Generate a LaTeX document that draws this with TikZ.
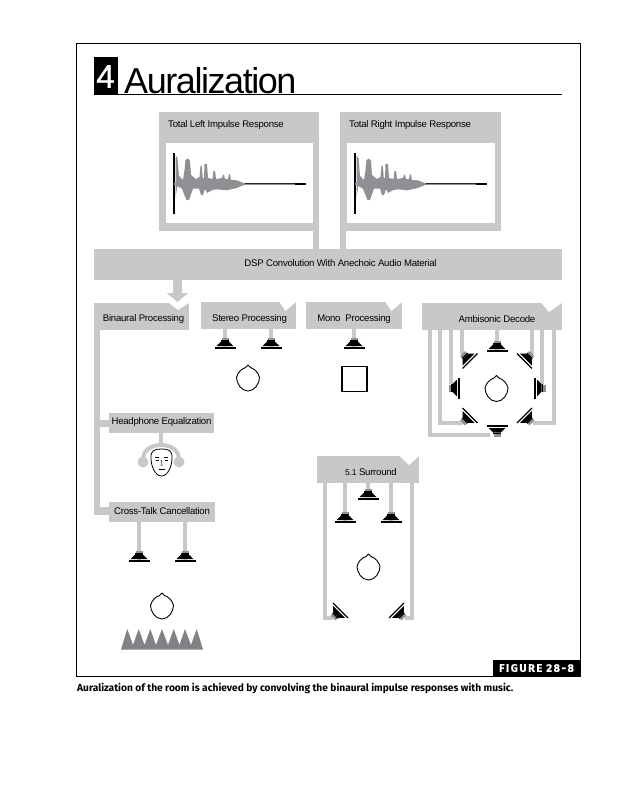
\documentclass[tikz,border=0pt]{standalone}
\usepackage{fontspec}
\usetikzlibrary{arrows.meta}
\setmainfont[LetterSpace=-2.5]{Liberation Sans}
\newfontfamily\titlefont[LetterSpace=-4]{Liberation Sans}
\newfontfamily\numfont[FakeBold=0.7]{Liberation Sans}
\newfontfamily\capfont{Fira Sans}
\newfontfamily\figfont[LetterSpace=14,BoldFeatures={FakeBold=0.8}]{Fira Sans}
\definecolor{panel}{HTML}{C6C8C9}
\definecolor{wave}{HTML}{8E9093}
\definecolor{spike}{HTML}{808286}
\tikzset{
  x=1pt,y=-1pt,
  panelbox/.style={fill=panel,draw=none,inner sep=0pt,outer sep=0pt,rectangle},
  whitebox/.style={fill=white,draw=none,inner sep=0pt,outer sep=0pt,rectangle},
  lab/.style={font=\fontsize{9.6}{12}\selectfont,text=black,inner sep=0pt,yshift=-1pt},
  stem/.style={draw=panel,line width=3.2pt},
  rail/.style={draw=panel,line width=6pt},
  notch/.style={fill=white,draw=none},
  spk/.pic={
    \fill[black] (-10.5,-0.6) rectangle (10.5,0.6);
    \fill[black] (-8.5,-2) -- (8.5,-2) -- (3.8,-6.5) -- (-3.8,-6.5) -- cycle;
    \fill[black] (-3.8,-6.5) rectangle (3.8,-8);
    \fill[wave] (-3.5,-8) rectangle (3.5,-10.5);
  },
  hd/.pic={
    \draw[black,line width=0.9pt,fill=white,line join=round] (0,-13) -- (-2.5,-10.5)
      .. controls (-7,-9) and (-10.5,-5) .. (-11.5,-0.5)
      .. controls (-11.5,5) and (-7,13) .. (0,13)
      .. controls (7,13) and (11.5,5) .. (11.5,-0.5)
      .. controls (10.5,-5) and (7,-9) .. (2.5,-10.5) -- cycle;
  },
  wv/.pic={
    \fill[wave] (1.5,-28.7) -- (3.5,-26) -- (5,-8) -- (9,-4) -- (10.5,-14) -- (11.5,-24)
      -- (14,-25.5) -- (16,-23) -- (17,-9) -- (22,-5) -- (25.5,-7) -- (26.5,-18) -- (27.8,-18)
      -- (28.8,-6) -- (30,-6) -- (30.5,-20) -- (33,-20) -- (34,-6) -- (38.5,-5) -- (39.5,-13)
      -- (41,-13) -- (42,-5) -- (48,-6) -- (49,-9.5) -- (50,-9) -- (51,-5) -- (54,-5)
      -- (55,-10) -- (56,-9.5) -- (57,-4) -- (62.7,-3.7)
      -- (71,-0.5) -- (71,0.7) -- (62.7,4) -- (52.7,6.3) -- (42.7,5.3) -- (37.7,6.3)
      -- (33,9) -- (31,5) -- (29,11) -- (27,11) -- (25,4.7) -- (19,4.7) -- (17,10.3)
      -- (15,16) -- (12.5,16) -- (10,10) -- (8,4.7) -- (3.3,2) -- (1.5,14) -- cycle;
    \fill[black] (-1,-31) rectangle (1,30);
    \fill[wave] (0,-0.9) rectangle (121,0.9);
    \fill[black!85] (71,-0.9) rectangle (121,0);
    \fill[black] (121,-0.9) rectangle (132,0.9);
  },
}
\begin{document}
\begin{tikzpicture}
\useasboundingbox (0,0) rectangle (636,800);
\fill[white] (0,0) rectangle (636,800);
% frame
\draw[black,line width=1pt] (76.5,43.5) rectangle (580,676);
% title
\node[fill=black,inner sep=0pt,minimum width=24pt,minimum height=37pt] (num) at (106,75.5) {};
\node[text=white,inner sep=0pt,font=\numfont\fontsize{33}{36}\selectfont] (numt) at (105.5,76.5) {4};
\draw[black,line width=0.9pt] (94,94) -- (562,94);
\node[anchor=base west,inner sep=0pt,font=\titlefont\fontsize{36}{38}\selectfont] (ttl) at (124,93) {Auralization};
% DSP
\node[panelbox,minimum width=468pt,minimum height=31pt] (dsp) at (328,264.5) {};
\node[lab] (dspt) at (340.5,262.5) {DSP Convolution With Anechoic Audio Material};
% impulse panels
\node[panelbox,minimum width=160pt,minimum height=119pt] (pl) at (239,171.5) {};
\node[whitebox,minimum width=147pt,minimum height=80pt] (wl) at (239.5,183) {};
\node[lab,anchor=west] (plt) at (168,124.5) {Total Left Impulse Response};
\pic at (174,184) {wv};
\node[panelbox,minimum width=161pt,minimum height=119pt] (pr) at (420.5,171.5) {};
\node[whitebox,minimum width=148pt,minimum height=80pt] (wr) at (421,183) {};
\node[lab,anchor=west] (prt) at (349,124.5) {Total Right Impulse Response};
\pic at (355,184) {wv};
\coordinate (cl) at (316,240);
\coordinate (cr) at (343,240);
\draw[rail] (pl.south -| cl) -- (dsp.north -| cl);
\draw[rail] (pr.south -| cr) -- (dsp.north -| cr);
% binaural
\node[panelbox,minimum width=95pt,minimum height=27pt] (bin) at (141.5,316.5) {};
\fill[notch] (168,302.5) -- (178,310) -- (189.5,302.5) -- cycle;
\node[lab] (bint) at (143.5,318) {Binaural Processing};
\coordinate (arrowtip) at (177.5,302);
\draw[draw=panel,line width=9.5pt,-{Triangle[width=21pt,length=9pt]}] (dsp.south -| arrowtip) -- (arrowtip);
% stereo
\node[panelbox,minimum width=95pt,minimum height=27pt] (st) at (248.5,315.5) {};
\fill[notch] (279,301.5) -- (285.5,311) -- (296.5,301.5) -- cycle;
\node[lab] (stt) at (249.5,318) {Stereo Processing};
\coordinate (sa) at (225,348); \coordinate (sb) at (271,348);
\draw[stem] (st.south -| sa) -- (sa);
\draw[stem] (st.south -| sb) -- (sb);
\pic at (sa) {spk}; \pic at (sb) {spk};
\pic at (248,378) {hd};
% mono
\node[panelbox,minimum width=96pt,minimum height=27pt] (mo) at (354,315.5) {};
\fill[notch] (385,301.5) -- (391.5,311) -- (402.5,301.5) -- cycle;
\node[lab] (mot) at (354,318) {Mono\ \ Processing};
\coordinate (ma) at (354,348);
\draw[stem] (mo.south -| ma) -- (ma);
\pic at (ma) {spk};
\node[draw=black,line width=1.2pt,fill=white,minimum width=25pt,minimum height=25pt,inner sep=0pt] (sq) at (354.5,379) {};
% ambisonic
\node[panelbox,minimum width=140pt,minimum height=27pt] (am) at (492,316.5) {};
\fill[notch] (541,302.5) -- (549,312) -- (562.5,302.5) -- cycle;
\node[lab] (amt) at (497,318) {Ambisonic Decode};
\coordinate (a1) at (497,351);
\coordinate (a2) at (524.5,361);
\coordinate (a3) at (535,388);
\coordinate (a4) at (524.5,415.5);
\coordinate (a5) at (497,426);
\coordinate (a6) at (470,415.5);
\coordinate (a7) at (459,388);
\coordinate (a8) at (470,361);
\coordinate (e1) at (430,435); \coordinate (e1b) at (490,435);
\coordinate (e2) at (440,423); \coordinate (e2b) at (463,423);
\coordinate (e3) at (451,384);
\coordinate (e4) at (462,354);
\coordinate (e5) at (532,354);
\coordinate (e6) at (542,384);
\coordinate (e7) at (554,423); \coordinate (e7b) at (533,423);
\draw[stem,line join=miter] (am.south -| e1) -- (e1) -- (e1b);
\draw[stem,line join=miter] (am.south -| e2) -- (e2) -- (e2b);
\draw[stem] (am.south -| e3) -- (e3);
\draw[stem] (am.south -| e4) -- (e4);
\draw[stem] (am.south -| a1) -- (a1);
\draw[stem] (am.south -| e5) -- (e5);
\draw[stem] (am.south -| e6) -- (e6);
\draw[stem,line join=miter] (am.south -| e7) -- (e7) -- (e7b);
\pic at (a1) {spk};
\pic[rotate=-45] at (a2) {spk};
\pic[rotate=-90] at (a3) {spk};
\pic[rotate=-135] at (a4) {spk};
\pic[rotate=180] at (a5) {spk};
\pic[rotate=135] at (a6) {spk};
\pic[rotate=90] at (a7) {spk};
\pic[rotate=45] at (a8) {spk};
\pic at (496.5,388.5) {hd};
% headphone branch
\node[panelbox,minimum width=105pt,minimum height=20pt] (he) at (161.5,423) {};
\node[lab] (het) at (161.5,421.5) {Headphone Equalization};
\node[panelbox,minimum width=106pt,minimum height=20pt] (ct) at (162,512) {};
\node[lab] (ctt) at (162,510.5) {Cross-Talk Cancellation};
\coordinate (rl) at (97,515);
\coordinate (rc) at (97,511);
\draw[rail] (bin.south -| rl) -- (rl);
\draw[draw=panel,line width=8pt] (94,511) -- (ct.west |- rc);
\draw[draw=panel,line width=7pt] (rl |- he.west) -- (he.west);
% headphones
\coordinate (ht) at (161,444);
\draw[stem] (he.south -| ht) -- (ht);
\draw[draw=panel,line width=4pt] (143,460) .. controls (143,450) and (151,445) .. (161,445) .. controls (171,445) and (179,450) .. (179,460);
\fill[panel] (143,462) circle (5.5);
\fill[panel] (179,462) circle (5.5);
\draw[black,line width=0.8pt,fill=white] (151,458) .. controls (150.5,450) and (155,449) .. (161.5,449)
  .. controls (168,449) and (172.5,450) .. (172,458)
  .. controls (172,466) and (168,476) .. (161.5,476)
  .. controls (155,476) and (151,466) .. (151,458) -- cycle;
\draw[black,line width=0.6pt] (155.5,460) -- (158.5,460) (164.5,460) -- (167.5,460);
\draw[black,line width=0.4pt] (155,457.5) -- (159,457.5) (164,457.5) -- (168,457.5);
\draw[black,line width=0.5pt] (161.5,460) -- (161,465) -- (163,465);
\draw[black,line width=0.6pt] (158.5,469.5) -- (164.5,469.5);
% cross-talk speakers
\coordinate (ca) at (139,561); \coordinate (cb) at (185,561);
\draw[stem] (ct.south -| ca) -- (ca);
\draw[stem] (ct.south -| cb) -- (cb);
\pic at (ca) {spk}; \pic at (cb) {spk};
\pic at (162,606) {hd};
\fill[spike] (121,649.5) -- (127.3,629) -- (133,645) -- (138.7,629) -- (144.5,645) -- (150.3,629) -- (156,645)
  -- (162,629) -- (168,645) -- (173.7,629) -- (179.5,645) -- (185,629) -- (191,645) -- (196.7,629) -- (203,649.5) -- cycle;
% surround
\node[panelbox,minimum width=102pt,minimum height=27pt] (su) at (368,469.5) {};
\fill[notch] (399,455.5) -- (409,465) -- (419.5,455.5) -- cycle;
\node[lab] (sut) at (371,471.5) {{\fontsize{8.5}{10}\selectfont 5.1} Surround};
\coordinate (u1) at (368,499);
\coordinate (u2) at (345,522);
\coordinate (u3) at (391,522);
\coordinate (u4) at (340.5,610.5);
\coordinate (u5) at (396.5,610.5);
\coordinate (v1) at (325,618); \coordinate (v1b) at (333,618);
\coordinate (v2) at (412,618); \coordinate (v2b) at (405,618);
\draw[stem] (su.south -| u1) -- (u1);
\draw[stem] (su.south -| u2) -- (u2);
\draw[stem] (su.south -| u3) -- (u3);
\draw[stem,line join=miter] (su.south -| v1) -- (v1) -- (v1b);
\draw[stem,line join=miter] (su.south -| v2) -- (v2) -- (v2b);
\pic at (u1) {spk}; \pic at (u2) {spk}; \pic at (u3) {spk};
\pic[rotate=135] at (u4) {spk};
\pic[rotate=-135] at (u5) {spk};
\pic at (368.5,567) {hd};
% figure tag and caption
\node[fill=black,minimum width=87pt,minimum height=16pt,inner sep=0pt] (tag) at (536.5,668) {};
\node[text=white,inner sep=0pt,font=\figfont\bfseries\fontsize{11}{12}\selectfont] (tagt) at (536.5,668) {FIGURE 28-8};
\node[anchor=west,inner sep=0pt,font=\capfont\bfseries\fontsize{10.2}{12}\selectfont] (cap) at (77,688) {Auralization of the room is achieved by convolving the binaural impulse responses with music.};
\end{tikzpicture}
\end{document}
